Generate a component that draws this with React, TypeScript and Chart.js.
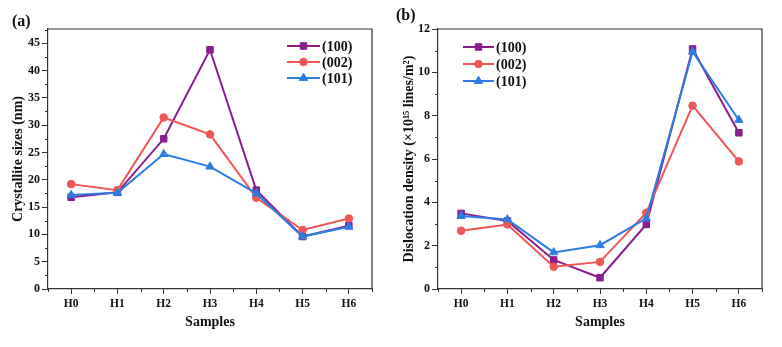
import React, { useEffect, useRef } from 'react';
import { Chart, registerables } from 'chart.js';
import { drawPoint } from 'chart.js/helpers';

Chart.register(...registerables);

// ---------- data ----------
const samples = ['H0', 'H1', 'H2', 'H3', 'H4', 'H5', 'H6'];
const seriesLabels = ['(100)', '(002)', '(101)'];

const crystal100 = [16.8, 17.7, 27.5, 43.8, 18.1, 9.6, 11.6];
const crystal002 = [19.2, 18.1, 31.4, 28.3, 16.7, 10.8, 12.9];
const crystal101 = [17.2, 17.6, 24.7, 22.4, 17.5, 9.6, 11.4];

const disl100 = [3.49, 3.14, 1.34, 0.52, 2.98, 11.08, 7.21];
const disl002 = [2.69, 2.98, 1.03, 1.25, 3.52, 8.46, 5.89];
const disl101 = [3.37, 3.21, 1.69, 2.02, 3.26, 10.95, 7.8];

const crystalAxis = { min: 0, max: 47.6, step: 5, minor: 2.5 };
const dislAxis = { min: 0, max: 12, step: 2, minor: 1 };

// ---------- styles ----------
const FONT = "'Liberation Serif', 'Times New Roman', serif";
const AXIS = '#333333';
const COLORS = ['#8B1E8F', '#EF5656', '#2B7DE2'];
const STYLES = ['rect', 'circle', 'triangle'];
const RADII = [4.6, 3.8, 4.8];
const W = 391;
const H = 347;

const framePlugin = {
  id: 'frame',
  afterDraw(chart: any, _args: any, opts: any) {
    const { ctx, chartArea: a, scales } = chart;
    ctx.save();
    ctx.strokeStyle = AXIS;
    ctx.lineWidth = 1.2;
    ctx.beginPath();
    ctx.moveTo(a.left, a.top);
    ctx.lineTo(a.right, a.top);
    ctx.lineTo(a.right, a.bottom);
    ctx.stroke();

    // minor ticks
    ctx.lineWidth = 1;
    const y = scales.y;
    ctx.beginPath();
    for (let v = opts.minor; v <= y.max + 1e-9; v += opts.minor * 2) {
      const py = Math.round(y.getPixelForValue(v)) + 0.5;
      ctx.moveTo(a.left, py);
      ctx.lineTo(a.left - 3, py);
    }
    const x = scales.x;
    for (let i = -0.5; i <= samples.length - 0.5; i += 1) {
      const px = Math.round(x.getPixelForValue(i)) + 0.5;
      ctx.moveTo(px, a.bottom);
      ctx.lineTo(px, a.bottom + 3);
    }
    ctx.stroke();

    // legend
    const lg = opts.legend;
    chart.data.datasets.forEach((ds: any, i: number) => {
      const ly = lg.y + i * lg.gap;
      ctx.strokeStyle = ds.borderColor;
      ctx.lineWidth = 2;
      ctx.beginPath();
      ctx.moveTo(lg.x, ly);
      ctx.lineTo(lg.x + lg.len, ly);
      ctx.stroke();
      ctx.fillStyle = ds.backgroundColor;
      ctx.strokeStyle = ds.borderColor;
      ctx.lineWidth = 1;
      drawPoint(ctx, { pointStyle: ds.pointStyle, radius: ds.pointRadius, rotation: 0, borderWidth: 1 }, lg.x + lg.len / 2, ly);
      ctx.fillStyle = '#111';
      ctx.font = `bold 14px ${FONT}`;
      ctx.textBaseline = 'middle';
      ctx.textAlign = 'left';
      ctx.fillText(ds.label, lg.x + lg.len + 2, ly + 1);
    });

    // panel label
    ctx.fillStyle = '#111';
    ctx.font = `bold 16px ${FONT}`;
    ctx.textBaseline = 'middle';
    ctx.fillText(opts.panel.text, opts.panel.x, opts.panel.y);
    ctx.restore();
  },
};

function makeConfig(series: number[][], axis: any, yTitle: string, plotLeft: number, plotRight: number, legend: any, panel: any) {
  return {
    type: 'line',
    data: {
      labels: samples,
      datasets: series.map((vals, i) => ({
        label: seriesLabels[i],
        data: vals,
        borderColor: COLORS[i],
        backgroundColor: COLORS[i],
        borderWidth: 2,
        pointStyle: STYLES[i],
        pointRadius: RADII[i],
        pointBorderWidth: 1,
        order: 3 - i,
        tension: 0,
      })),
    },
    options: {
      responsive: false,
      animation: false,
      layout: { padding: { left: 0, right: W - plotRight, top: 29, bottom: 0 } },
      plugins: {
        legend: { display: false },
        tooltip: { enabled: false },
        frame: { minor: axis.minor, legend, panel },
      },
      scales: {
        x: {
          offset: true,
          grid: { offset: false, drawOnChartArea: false, drawTicks: true, tickLength: 5, color: AXIS, tickWidth: 1 },
          border: { display: true, color: AXIS, width: 1.2 },
          ticks: { color: '#111', font: { family: FONT, size: 11.5, weight: 'bold' }, padding: 3, maxRotation: 0 },
          title: { display: true, text: 'Samples', color: '#111', font: { family: FONT, size: 14, weight: 'bold' }, padding: { top: 0, bottom: 16 } },
          afterFit: (s: any) => { s.height = 58; },
        },
        y: {
          min: axis.min,
          max: axis.max,
          grid: { drawOnChartArea: false, drawTicks: true, tickLength: 6, color: AXIS, tickWidth: 1 },
          border: { display: true, color: AXIS, width: 1.2 },
          ticks: { stepSize: axis.step, includeBounds: false, color: '#111', font: { family: FONT, size: 12, weight: 'bold' }, padding: 2 },
          title: { display: true, text: yTitle, color: '#111', font: { family: FONT, size: 14, weight: 'bold' }, padding: { top: 10, bottom: 0 } },
          afterFit: (s: any) => { s.width = plotLeft; },
        },
      },
    },
    plugins: [framePlugin],
  };
}

function Panel({ config, left }: { config: any; left: number }) {
  const ref = useRef<HTMLCanvasElement>(null);
  useEffect(() => {
    if (!ref.current) return;
    const chart = new Chart(ref.current, config);
    return () => chart.destroy();
  }, []);
  return (
    <canvas ref={ref} width={W} height={H} style={{ position: 'absolute', left, top: 0, width: W, height: H }} />
  );
}

export default function App() {
  const cfgA = makeConfig(
    [crystal100, crystal002, crystal101],
    crystalAxis,
    'Crystallite sizes (nm)',
    48,
    372,
    { x: 287, y: 46, gap: 16, len: 33 },
    { text: '(a)', x: 12, y: 22 }
  );
  const cfgB = makeConfig(
    [disl100, disl002, disl101],
    dislAxis,
    'Dislocation density (×10¹⁵ lines/m²)',
    47,
    371,
    { x: 72, y: 47, gap: 17, len: 31 },
    { text: '(b)', x: 5, y: 16 }
  );
  return (
    <div style={{ position: 'fixed', left: 0, top: 0, width: 782, height: 347, background: '#fff' }}>
      <Panel config={cfgA} left={0} />
      <Panel config={cfgB} left={391} />
    </div>
  );
}
